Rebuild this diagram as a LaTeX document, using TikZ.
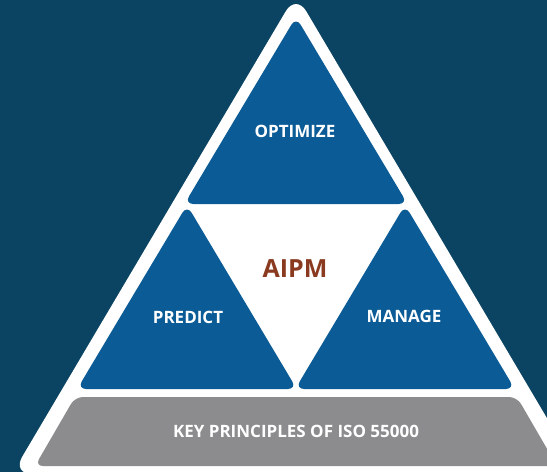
\documentclass[tikz,border=0pt]{standalone}
\usepackage{fontspec}
\setmainfont{Open Sans}
\definecolor{bgdark}{HTML}{0B4462}
\definecolor{triblue}{HTML}{0A5B96}
\definecolor{basegray}{HTML}{8C8C8E}
\definecolor{aipmred}{HTML}{8A3A1E}
\begin{document}
\begin{tikzpicture}[x=1pt,y=-1pt,
    labeltext/.style={text=white,font=\fontsize{17}{20}\selectfont\bfseries,inner sep=0pt},
    centertext/.style={text=aipmred,font=\fontsize{25}{30}\selectfont\bfseries,inner sep=0pt}]

\def\BACKGROUND{bgdark}
\def\TRICOLOR{triblue}
\def\BASECOLOR{basegray}
	\useasboundingbox (0,0) rectangle (547,472);
	\clip (0,0) rectangle (547,472);
	\fill[\BACKGROUND] (0,0) rectangle (547,472);
	\fill[white,rounded corners=20pt] (296,-6) -- (580,474) -- (12,474) -- cycle;
	\fill[\TRICOLOR,rounded corners=9pt] (296,17) -- (407.6,204) -- (184.4,204) -- cycle;
	\fill[\TRICOLOR,rounded corners=9pt] (187,205) -- (296.8,389) -- (77.2,389) -- cycle;
	\fill[\TRICOLOR,rounded corners=9pt] (405,205) -- (514.8,389) -- (295.2,389) -- cycle;
	\fill[\BASECOLOR,rounded corners=8pt] (75,397) -- (517,397) -- (557,466) -- (35,466) -- cycle;
	\node[labeltext] (optimize) at (295,131.5) {OPTIMIZE};
	\node[labeltext] (predict) at (188,317) {PREDICT};
	\node[labeltext] (manage) at (404,316) {MANAGE};
	\node[centertext] (aipm) at (295,269) {AIPM};
	\node[labeltext] (keyprinciples) at (296,431) {KEY PRINCIPLES OF ISO 55000};

\end{tikzpicture}
\end{document}
